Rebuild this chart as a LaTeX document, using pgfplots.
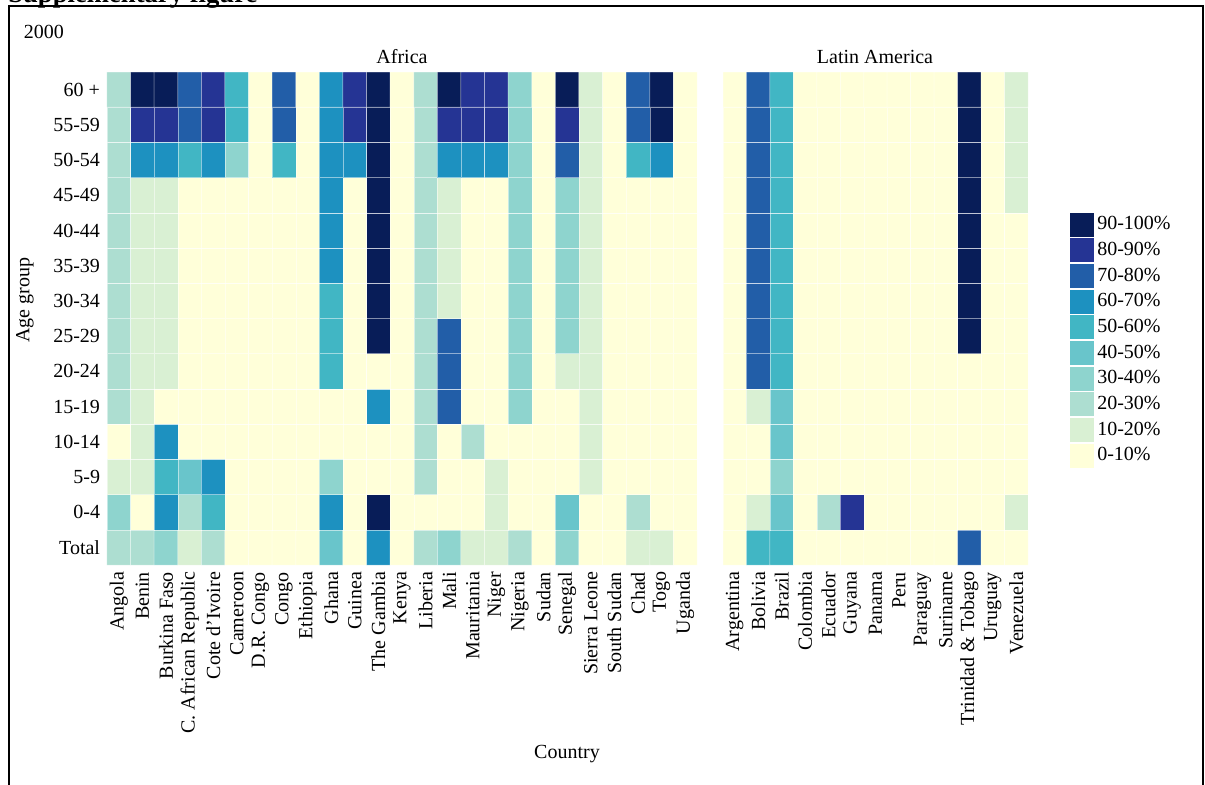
\documentclass[border=0pt]{standalone}
\usepackage{fontspec}
\setmainfont{Liberation Serif}
\usepackage{pgfplots}
\pgfplotsset{compat=1.18}

% YlGnBu classes, 0-10% ... 90-100%
\definecolor{c0}{RGB}{255,255,217}
\definecolor{c1}{RGB}{217,240,211}
\definecolor{c2}{RGB}{173,222,209}
\definecolor{c3}{RGB}{142,212,206}
\definecolor{c4}{RGB}{105,197,203}
\definecolor{c5}{RGB}{65,182,196}
\definecolor{c6}{RGB}{29,145,192}
\definecolor{c7}{RGB}{34,94,168}
\definecolor{c8}{RGB}{37,52,148}
\definecolor{c9}{RGB}{8,29,88}

\pgfplotsset{
  heat/.style={
    scale only axis, height=295.8pt, anchor=south west,
    ymin=-0.5, ymax=13.5, ytick={0,...,13},
    axis line style={draw=none}, major tick length=0pt,
    xticklabel style={rotate=90, anchor=east},
    tick label style={font=\fontsize{12}{14}\selectfont},
    colormap={ylgnbu}{rgb255=(255,255,217) rgb255=(217,240,211)
      rgb255=(173,222,209) rgb255=(142,212,206) rgb255=(105,197,203)
      rgb255=(65,182,196) rgb255=(29,145,192) rgb255=(34,94,168)
      rgb255=(37,52,148) rgb255=(8,29,88)},
    colormap access=direct,
  },
  cells/.style={matrix plot*, mesh/cols=#1, point meta=explicit,
    shader=faceted, faceted color=white, line width=0.3pt,
    draw opacity=0.5, forget plot},
}

\begin{document}
\fontsize{12}{14}\selectfont
\begin{tikzpicture}
\useasboundingbox (0,0) rectangle (723pt,-471pt);

\begin{axis}[heat,
  at={(64.2pt,-339pt)}, width=354pt,
  xmin=-0.5, xmax=24.5, xtick={0,...,24},
  xticklabels={Angola, Benin, Burkina Faso, C. African Republic, Cote d'Ivoire,
    Cameroon, D.R. Congo, Congo, Ethiopia, Ghana, Guinea, The Gambia, Kenya,
    Liberia, Mali, Mauritania, Niger, Nigeria, Sudan, Senegal, Sierra Leone,
    South Sudan, Chad, Togo, Uganda},
  yticklabels={Total, 0-4, 5-9, 10-14, 15-19, 20-24, 25-29, 30-34, 35-39,
    40-44, 45-49, 50-54, 55-59, 60 +},
]
\addplot[cells=25] coordinates {
(0,0)[2] (1,0)[2] (2,0)[3] (3,0)[1] (4,0)[2] (5,0)[0] (6,0)[0] (7,0)[0] (8,0)[0] (9,0)[4] (10,0)[0] (11,0)[6] (12,0)[0] (13,0)[2] (14,0)[3] (15,0)[1] (16,0)[1] (17,0)[2] (18,0)[0] (19,0)[3] (20,0)[0] (21,0)[0] (22,0)[1] (23,0)[1] (24,0)[0]
(0,1)[3] (1,1)[0] (2,1)[6] (3,1)[2] (4,1)[5] (5,1)[0] (6,1)[0] (7,1)[0] (8,1)[0] (9,1)[6] (10,1)[0] (11,1)[9] (12,1)[0] (13,1)[0] (14,1)[0] (15,1)[0] (16,1)[1] (17,1)[0] (18,1)[0] (19,1)[4] (20,1)[0] (21,1)[0] (22,1)[2] (23,1)[0] (24,1)[0]
(0,2)[1] (1,2)[1] (2,2)[5] (3,2)[4] (4,2)[6] (5,2)[0] (6,2)[0] (7,2)[0] (8,2)[0] (9,2)[3] (10,2)[0] (11,2)[0] (12,2)[0] (13,2)[2] (14,2)[0] (15,2)[0] (16,2)[1] (17,2)[0] (18,2)[0] (19,2)[0] (20,2)[1] (21,2)[0] (22,2)[0] (23,2)[0] (24,2)[0]
(0,3)[0] (1,3)[1] (2,3)[6] (3,3)[0] (4,3)[0] (5,3)[0] (6,3)[0] (7,3)[0] (8,3)[0] (9,3)[0] (10,3)[0] (11,3)[0] (12,3)[0] (13,3)[2] (14,3)[0] (15,3)[2] (16,3)[0] (17,3)[0] (18,3)[0] (19,3)[0] (20,3)[1] (21,3)[0] (22,3)[0] (23,3)[0] (24,3)[0]
(0,4)[2] (1,4)[1] (2,4)[0] (3,4)[0] (4,4)[0] (5,4)[0] (6,4)[0] (7,4)[0] (8,4)[0] (9,4)[0] (10,4)[0] (11,4)[6] (12,4)[0] (13,4)[2] (14,4)[7] (15,4)[0] (16,4)[0] (17,4)[3] (18,4)[0] (19,4)[0] (20,4)[1] (21,4)[0] (22,4)[0] (23,4)[0] (24,4)[0]
(0,5)[2] (1,5)[1] (2,5)[1] (3,5)[0] (4,5)[0] (5,5)[0] (6,5)[0] (7,5)[0] (8,5)[0] (9,5)[5] (10,5)[0] (11,5)[0] (12,5)[0] (13,5)[2] (14,5)[7] (15,5)[0] (16,5)[0] (17,5)[3] (18,5)[0] (19,5)[1] (20,5)[1] (21,5)[0] (22,5)[0] (23,5)[0] (24,5)[0]
(0,6)[2] (1,6)[1] (2,6)[1] (3,6)[0] (4,6)[0] (5,6)[0] (6,6)[0] (7,6)[0] (8,6)[0] (9,6)[5] (10,6)[0] (11,6)[9] (12,6)[0] (13,6)[2] (14,6)[7] (15,6)[0] (16,6)[0] (17,6)[3] (18,6)[0] (19,6)[3] (20,6)[1] (21,6)[0] (22,6)[0] (23,6)[0] (24,6)[0]
(0,7)[2] (1,7)[1] (2,7)[1] (3,7)[0] (4,7)[0] (5,7)[0] (6,7)[0] (7,7)[0] (8,7)[0] (9,7)[5] (10,7)[0] (11,7)[9] (12,7)[0] (13,7)[2] (14,7)[1] (15,7)[0] (16,7)[0] (17,7)[3] (18,7)[0] (19,7)[3] (20,7)[1] (21,7)[0] (22,7)[0] (23,7)[0] (24,7)[0]
(0,8)[2] (1,8)[1] (2,8)[1] (3,8)[0] (4,8)[0] (5,8)[0] (6,8)[0] (7,8)[0] (8,8)[0] (9,8)[6] (10,8)[0] (11,8)[9] (12,8)[0] (13,8)[2] (14,8)[1] (15,8)[0] (16,8)[0] (17,8)[3] (18,8)[0] (19,8)[3] (20,8)[1] (21,8)[0] (22,8)[0] (23,8)[0] (24,8)[0]
(0,9)[2] (1,9)[1] (2,9)[1] (3,9)[0] (4,9)[0] (5,9)[0] (6,9)[0] (7,9)[0] (8,9)[0] (9,9)[6] (10,9)[0] (11,9)[9] (12,9)[0] (13,9)[2] (14,9)[1] (15,9)[0] (16,9)[0] (17,9)[3] (18,9)[0] (19,9)[3] (20,9)[1] (21,9)[0] (22,9)[0] (23,9)[0] (24,9)[0]
(0,10)[2] (1,10)[1] (2,10)[1] (3,10)[0] (4,10)[0] (5,10)[0] (6,10)[0] (7,10)[0] (8,10)[0] (9,10)[6] (10,10)[0] (11,10)[9] (12,10)[0] (13,10)[2] (14,10)[1] (15,10)[0] (16,10)[0] (17,10)[3] (18,10)[0] (19,10)[3] (20,10)[1] (21,10)[0] (22,10)[0] (23,10)[0] (24,10)[0]
(0,11)[2] (1,11)[6] (2,11)[6] (3,11)[5] (4,11)[6] (5,11)[3] (6,11)[0] (7,11)[5] (8,11)[0] (9,11)[6] (10,11)[6] (11,11)[9] (12,11)[0] (13,11)[2] (14,11)[6] (15,11)[6] (16,11)[6] (17,11)[3] (18,11)[0] (19,11)[7] (20,11)[1] (21,11)[0] (22,11)[5] (23,11)[6] (24,11)[0]
(0,12)[2] (1,12)[8] (2,12)[8] (3,12)[7] (4,12)[8] (5,12)[5] (6,12)[0] (7,12)[7] (8,12)[0] (9,12)[6] (10,12)[8] (11,12)[9] (12,12)[0] (13,12)[2] (14,12)[8] (15,12)[8] (16,12)[8] (17,12)[3] (18,12)[0] (19,12)[8] (20,12)[1] (21,12)[0] (22,12)[7] (23,12)[9] (24,12)[0]
(0,13)[2] (1,13)[9] (2,13)[9] (3,13)[7] (4,13)[8] (5,13)[5] (6,13)[0] (7,13)[7] (8,13)[0] (9,13)[6] (10,13)[8] (11,13)[9] (12,13)[0] (13,13)[2] (14,13)[9] (15,13)[8] (16,13)[8] (17,13)[3] (18,13)[0] (19,13)[9] (20,13)[1] (21,13)[0] (22,13)[7] (23,13)[9] (24,13)[0]
};
\end{axis}

\begin{axis}[heat,
  at={(433.8pt,-339pt)}, width=183pt,
  xmin=-0.5, xmax=12.5, xtick={0,...,12},
  xticklabels={Argentina, Bolivia, Brazil, Colombia, Ecuador, Guyana, Panama,
    Peru, Paraguay, Suriname, Trinidad \& Tobago, Uruguay, Venezuela},
  yticklabels={},
  legend image code/.code={\fill[#1, draw=none] (0pt,-7.2pt) rectangle (14.4pt,7.2pt);},
  legend style={draw=none, fill=none, at={(1,0.456)}, anchor=west,
    xshift=22pt, font=\fontsize{12}{14}\selectfont, row sep=1pt},
  legend cell align=left,
]
\addplot[cells=13] coordinates {
(0,0)[0] (1,0)[5] (2,0)[5] (3,0)[0] (4,0)[0] (5,0)[0] (6,0)[0] (7,0)[0] (8,0)[0] (9,0)[0] (10,0)[7] (11,0)[0] (12,0)[0]
(0,1)[0] (1,1)[1] (2,1)[4] (3,1)[0] (4,1)[2] (5,1)[8] (6,1)[0] (7,1)[0] (8,1)[0] (9,1)[0] (10,1)[0] (11,1)[0] (12,1)[1]
(0,2)[0] (1,2)[0] (2,2)[3] (3,2)[0] (4,2)[0] (5,2)[0] (6,2)[0] (7,2)[0] (8,2)[0] (9,2)[0] (10,2)[0] (11,2)[0] (12,2)[0]
(0,3)[0] (1,3)[0] (2,3)[4] (3,3)[0] (4,3)[0] (5,3)[0] (6,3)[0] (7,3)[0] (8,3)[0] (9,3)[0] (10,3)[0] (11,3)[0] (12,3)[0]
(0,4)[0] (1,4)[1] (2,4)[4] (3,4)[0] (4,4)[0] (5,4)[0] (6,4)[0] (7,4)[0] (8,4)[0] (9,4)[0] (10,4)[0] (11,4)[0] (12,4)[0]
(0,5)[0] (1,5)[7] (2,5)[5] (3,5)[0] (4,5)[0] (5,5)[0] (6,5)[0] (7,5)[0] (8,5)[0] (9,5)[0] (10,5)[0] (11,5)[0] (12,5)[0]
(0,6)[0] (1,6)[7] (2,6)[5] (3,6)[0] (4,6)[0] (5,6)[0] (6,6)[0] (7,6)[0] (8,6)[0] (9,6)[0] (10,6)[9] (11,6)[0] (12,6)[0]
(0,7)[0] (1,7)[7] (2,7)[5] (3,7)[0] (4,7)[0] (5,7)[0] (6,7)[0] (7,7)[0] (8,7)[0] (9,7)[0] (10,7)[9] (11,7)[0] (12,7)[0]
(0,8)[0] (1,8)[7] (2,8)[5] (3,8)[0] (4,8)[0] (5,8)[0] (6,8)[0] (7,8)[0] (8,8)[0] (9,8)[0] (10,8)[9] (11,8)[0] (12,8)[0]
(0,9)[0] (1,9)[7] (2,9)[5] (3,9)[0] (4,9)[0] (5,9)[0] (6,9)[0] (7,9)[0] (8,9)[0] (9,9)[0] (10,9)[9] (11,9)[0] (12,9)[0]
(0,10)[0] (1,10)[7] (2,10)[5] (3,10)[0] (4,10)[0] (5,10)[0] (6,10)[0] (7,10)[0] (8,10)[0] (9,10)[0] (10,10)[9] (11,10)[0] (12,10)[1]
(0,11)[0] (1,11)[7] (2,11)[5] (3,11)[0] (4,11)[0] (5,11)[0] (6,11)[0] (7,11)[0] (8,11)[0] (9,11)[0] (10,11)[9] (11,11)[0] (12,11)[1]
(0,12)[0] (1,12)[7] (2,12)[5] (3,12)[0] (4,12)[0] (5,12)[0] (6,12)[0] (7,12)[0] (8,12)[0] (9,12)[0] (10,12)[9] (11,12)[0] (12,12)[1]
(0,13)[0] (1,13)[7] (2,13)[5] (3,13)[0] (4,13)[0] (5,13)[0] (6,13)[0] (7,13)[0] (8,13)[0] (9,13)[0] (10,13)[9] (11,13)[0] (12,13)[1]
};
\addlegendimage{fill=c9}\addlegendentry{90-100\%}
\addlegendimage{fill=c8}\addlegendentry{80-90\%}
\addlegendimage{fill=c7}\addlegendentry{70-80\%}
\addlegendimage{fill=c6}\addlegendentry{60-70\%}
\addlegendimage{fill=c5}\addlegendentry{50-60\%}
\addlegendimage{fill=c4}\addlegendentry{40-50\%}
\addlegendimage{fill=c3}\addlegendentry{30-40\%}
\addlegendimage{fill=c2}\addlegendentry{20-30\%}
\addlegendimage{fill=c1}\addlegendentry{10-20\%}
\addlegendimage{fill=c0}\addlegendentry{0-10\%}
\end{axis}

% panel titles, axis titles, year and frame
\node at (402*0.6pt,-57*0.6pt) {Africa};
\node at (875*0.6pt,-57*0.6pt) {Latin America};
\node[rotate=90] at (25*0.6pt,-300*0.6pt) {Age group};
\node at (567*0.6pt,-754*0.6pt) {Country};
\node[anchor=west] at (17*0.6pt,-32*0.6pt) {2000};
\node[anchor=base west, inner sep=0pt, font=\fontsize{16}{18}\selectfont\bfseries]
  at (8*0.6pt,-3*0.6pt) {Supplementary figure};
\draw[line width=1.2pt] (9*0.6pt,-480pt) -- (9*0.6pt,-6*0.6pt)
  -- (1203*0.6pt,-6*0.6pt) -- (1203*0.6pt,-480pt);
\end{tikzpicture}
\end{document}
